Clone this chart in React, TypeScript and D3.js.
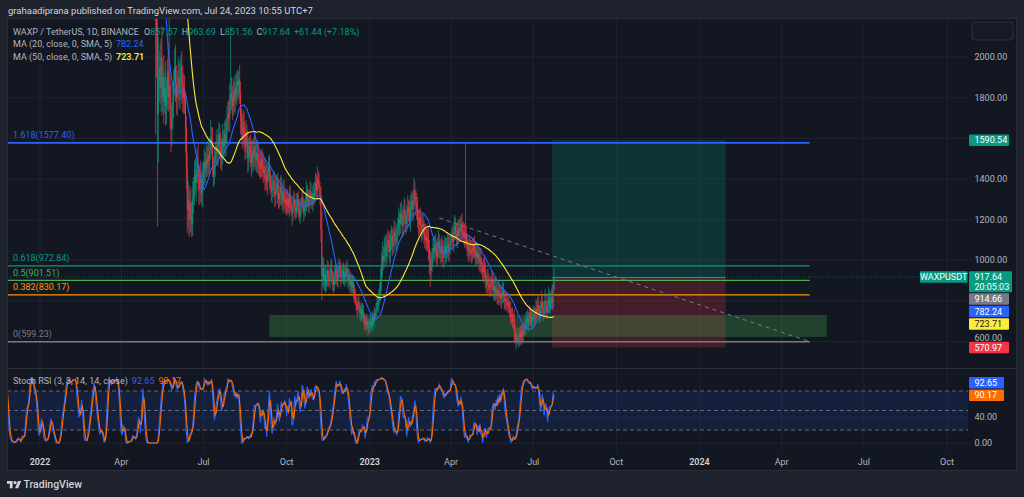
import React, { useMemo } from "react";
import * as d3 from "d3";

// ---------------- DATA ----------------
const LAST_DATE = "2023-07-24";

// daily closes before the visible candles (above the visible price range), 2021-10-20 .. 2022-04-30
const earlyCloses = [
  4200, 4300, 4250, 4400, 4350, 4500, 4450, 4600, 4550, 4800, 5100, 5000,
  5300, 5600, 5500, 5900, 6200, 6000, 6500, 6900, 6700, 7200, 7000, 6800, 7100, 7500, 7300, 6900, 6600, 6800, 7200, 7600, 8100, 8600, 9200, 10500, 9800, 9300, 8700, 9000, 8600, 8200,
  8400, 8000, 7500, 6800, 7000, 7200, 6900, 7100, 6700, 6500, 6600, 6900, 6400, 6200, 6500, 6700, 6500, 6300, 6600, 6800, 7000, 7300, 7500, 7200, 7400, 7100, 7300, 6900, 6600, 6400, 6500,
  6700, 6900, 6600, 6400, 5900, 6000, 5800, 5700, 5900, 5600, 5800, 6000, 5700, 5500, 5600, 5400, 5300, 5200, 5000, 4900, 4300, 4100, 4300, 4200, 4500, 4400, 4200, 4400, 4600, 4500, 4700,
  4900, 4800, 4700, 5000, 5300, 5200, 5500, 5700, 5600, 5400, 5100, 5200, 5000, 5300, 5600, 5500, 5100, 4900, 5000, 4800, 4600, 4700, 4900, 4700, 5000, 5200, 5000, 5500,
  5700, 5500, 5300, 5000, 5100, 4900, 4700, 4800, 5000, 4800, 4700, 4650, 4500, 4600, 4800, 5000, 5100, 5300, 5200, 5400, 5300, 5600, 5800, 5700, 5900, 6100, 6300, 6200, 6000, 5900, 5700,
  5800, 5900, 6100, 5800, 5600, 5200, 5100, 5000, 5100, 4900, 4500, 4600, 4700, 4500, 4400, 4500, 4300, 4400, 4500, 4300, 4200, 4100, 4300, 4400, 4200, 4000, 3900, 3800, 3700, 3600,
];

// daily closes 2022-05-01 .. 2023-07-24 (open = previous close)
const closes = [
  // May 2022
  3500, 3300, 3000, 2800, 2500, 2400, 2350, 2300, 2250, 2150, 1720, 1880, 1950, 1850, 2000, 1800, 1900, 1780, 1850, 1760, 1820, 1930, 1800, 1860, 1750, 1650, 1700, 1780, 1880, 1950, 1870,
  // Jun 2022
  1800, 1850, 1900, 1820, 1880, 1950, 1870, 1800, 1850, 1780, 1650, 1450, 1250, 1300, 1200, 1280, 1220, 1180, 1300, 1350, 1420, 1380, 1450, 1480, 1400, 1350, 1420, 1380, 1330, 1400,
  // Jul 2022
  1430, 1480, 1450, 1500, 1470, 1520, 1490, 1550, 1600, 1580, 1450, 1420, 1480, 1530, 1560, 1520, 1580, 1620, 1560, 1500, 1540, 1590, 1560, 1620, 1580, 1640, 1680, 1720, 1700, 1780, 1820,
  // Aug 2022
  1800, 1760, 1830, 1790, 1850, 1820, 1880, 1860, 1890, 1820, 1700, 1650, 1620, 1680, 1600, 1560, 1620, 1580, 1500, 1530, 1560, 1520, 1480, 1540, 1510, 1560, 1520, 1490, 1530, 1500, 1470,
  // Sep 2022
  1480, 1450, 1500, 1470, 1430, 1460, 1400, 1420, 1380, 1440, 1460, 1410, 1370, 1340, 1360, 1390, 1350, 1320, 1360, 1380, 1340, 1300, 1330, 1360, 1320, 1290, 1340, 1310, 1280, 1300,
  // Oct 2022
  1270, 1300, 1260, 1320, 1280, 1250, 1230, 1270, 1300, 1260, 1240, 1280, 1300, 1250, 1220, 1260, 1280, 1310, 1270, 1240, 1260, 1290, 1330, 1300, 1270, 1310, 1340, 1300, 1290, 1330, 1310,
  // Nov 2022
  1350, 1380, 1340, 1400, 1380, 1360, 1320, 1150, 920, 960, 900, 930, 880, 910, 950, 920, 900, 940, 960, 920, 900, 880, 920, 950, 930, 900, 940, 970, 950, 920,
  // Dec 2022
  930, 950, 910, 940, 920, 960, 930, 900, 920, 880, 900, 870, 890, 850, 820, 800, 780, 760, 790, 770, 740, 760, 730, 750, 720, 700, 680, 700, 690, 670, 680,
  // Jan 2023
  690, 700, 680, 720, 700, 740, 730, 760, 790, 780, 820, 840, 900, 980, 1020, 1000, 1050, 1080, 1020, 1060, 1100, 1080, 1040, 1090, 1120, 1070, 1100, 1140, 1120, 1090, 1130,
  // Feb 2023
  1160, 1200, 1180, 1230, 1210, 1170, 1220, 1250, 1200, 1180, 1220, 1260, 1240, 1200, 1260, 1290, 1250, 1300, 1340, 1310, 1280, 1250, 1200, 1180, 1210, 1170, 1150, 1180,
  // Mar 2023
  1160, 1130, 1100, 1120, 1090, 1110, 1060, 1000, 950, 980, 1020, 1060, 1040, 1080, 1050, 1020, 1060, 1090, 1050, 1030, 1070, 1040, 1010, 1050, 1070, 1030, 1060, 1080, 1040, 1070, 1090,
  // Apr 2023
  1100, 1120, 1090, 1140, 1170, 1130, 1110, 1150, 1120, 1160, 1140, 1180, 1150, 1120, 1140, 1110, 1130, 1080, 1060, 1040, 1070, 1050, 1030, 1060, 1040, 1070, 1050, 1020, 1040, 1010,
  // May 2023
  1030, 990, 1010, 980, 960, 940, 970, 950, 900, 880, 910, 890, 860, 880, 870, 900, 880, 850, 870, 840, 860, 830, 850, 820, 840, 810, 830, 850, 820, 800, 810,
  // Jun 2023
  800, 780, 790, 770, 760, 720, 730, 700, 710, 640, 600, 630, 610, 600, 620, 640, 620, 650, 630, 660, 680, 670, 700, 720, 690, 710, 740, 720, 700, 730,
  // Jul 2023
  740, 710, 730, 760, 740, 780, 750, 730, 760, 790, 770, 740, 760, 800, 770, 750, 780, 810, 770, 790, 820, 790, 856.2, 917.64,
];

// upper wick above max(open, close)
const upWicks = [
  80, 100, 120, 90, 150, 120, 100, 90, 150, 250, 50, 220, 80, 120, 90, 150, 60, 110, 70, 130, 80, 60, 140, 340, 90, 120, 70, 80, 60, 90, 110,
  90, 80, 100, 70, 110, 60, 80, 90, 70, 60, 50, 60, 80, 90, 70, 60, 80, 70, 90, 60, 70, 80, 60, 70, 90, 60, 50, 70, 60, 80,
  60, 70, 50, 80, 60, 70, 50, 60, 90, 55, 75, 60, 70, 50, 80, 60, 70, 60, 50, 70, 60, 80, 50, 60, 70, 60, 80, 60, 70, 90, 330,
  80, 60, 70, 50, 60, 70, 50, 60, 40, 70, 60, 50, 70, 60, 50, 60, 70, 50, 60, 70, 50, 60, 70, 50, 60, 50, 70, 60, 50, 60, 70,
  50, 60, 40, 50, 60, 40, 50, 60, 50, 40, 50, 60, 40, 50, 60, 40, 50, 60, 50, 40, 50, 60, 40, 50, 60, 40, 50, 60, 40, 50,
  40, 50, 30, 40, 50, 30, 40, 50, 40, 30, 40, 50, 30, 40, 50, 40, 30, 40, 50, 30, 40, 50, 60, 40, 50, 40, 50, 40, 30, 40, 50,
  40, 50, 40, 60, 40, 50, 30, 40, 90, 60, 50, 40, 50, 40, 50, 40, 30, 40, 50, 40, 30, 40, 50, 40, 30, 40, 50, 40, 30, 40,
  40, 30, 40, 30, 40, 30, 40, 30, 40, 30, 40, 30, 40, 30, 30, 40, 30, 20, 30, 40, 30, 20, 30, 40, 30, 20, 30, 40, 30, 20, 30,
  20, 30, 20, 30, 20, 30, 20, 30, 40, 30, 40, 50, 60, 60, 70, 50, 60, 40, 50, 60, 50, 40, 50, 60, 50, 40, 50, 60, 50, 40, 50,
  50, 60, 40, 50, 60, 40, 50, 60, 50, 40, 50, 60, 40, 50, 60, 50, 40, 50, 65, 50, 40, 50, 60, 50, 40, 50, 60, 50,
  50, 40, 50, 60, 40, 50, 60, 40, 50, 60, 40, 50, 60, 40, 50, 40, 50, 60, 40, 50, 40, 50, 60, 40, 50, 40, 50, 60, 40, 50, 40,
  40, 50, 40, 50, 53, 40, 50, 40, 50, 40, 50, 40, 50, 40, 50, 40, 447, 40, 50, 40, 50, 40, 50, 40, 50, 40, 50, 40, 50, 40,
  40, 30, 45, 50, 35, 30, 40, 55, 40, 30, 45, 50, 40, 35, 40, 50, 40, 30, 45, 50, 40, 30, 40, 50, 45, 30, 40, 50, 40, 30, 40,
  30, 40, 30, 45, 30, 40, 35, 40, 30, 50, 40, 30, 40, 30, 45, 30, 40, 35, 40, 30, 40, 30, 45, 30, 40, 35, 40, 30, 40, 30,
  40, 30, 40, 50, 40, 50, 40, 30, 40, 60, 40, 30, 40, 60, 40, 30, 50, 60, 40, 50, 40, 60, 30, 46.05,
];

// lower wick below min(open, close)
const downWicks = [
  100, 120, 90, 110, 130, 100, 90, 120, 630, 250, 556, 240, 100, 80, 120, 90, 70, 110, 60, 100, 90, 80, 70, 60, 110, 120, 90, 60, 80, 70, 90,
  80, 90, 60, 70, 80, 90, 100, 70, 80, 60, 120, 100, 116, 90, 85, 70, 80, 65, 60, 70, 80, 60, 90, 70, 60, 80, 70, 90, 60, 70,
  50, 60, 70, 40, 60, 50, 70, 60, 50, 60, 40, 60, 50, 70, 60, 50, 60, 70, 60, 50, 60, 70, 60, 50, 60, 70, 60, 50, 60, 70, 60,
  60, 70, 50, 60, 70, 50, 60, 70, 60, 50, 80, 60, 70, 50, 60, 70, 60, 50, 70, 60, 50, 60, 70, 50, 60, 70, 60, 50, 60, 70, 50,
  60, 50, 40, 60, 50, 40, 60, 50, 40, 60, 50, 60, 40, 50, 60, 50, 40, 60, 50, 40, 60, 50, 40, 60, 50, 40, 60, 50, 40, 50,
  50, 40, 30, 50, 40, 30, 60, 40, 30, 50, 40, 30, 50, 40, 30, 40, 50, 30, 40, 50, 30, 40, 50, 40, 30, 40, 50, 30, 40, 50, 40,
  30, 40, 30, 40, 30, 40, 50, 60, 115, 50, 40, 50, 40, 30, 40, 50, 30, 40, 30, 40, 50, 40, 30, 40, 50, 30, 40, 30, 40, 50,
  30, 40, 30, 40, 30, 40, 30, 40, 30, 40, 30, 40, 30, 40, 30, 20, 30, 40, 30, 20, 30, 40, 30, 20, 30, 40, 30, 20, 30, 40, 30,
  38, 30, 20, 30, 20, 30, 20, 30, 20, 30, 40, 30, 40, 50, 60, 50, 40, 60, 50, 40, 50, 40, 60, 50, 40, 50, 40, 60, 50, 40, 50,
  50, 40, 60, 50, 40, 60, 50, 40, 60, 50, 40, 60, 50, 40, 60, 50, 40, 60, 50, 40, 60, 50, 40, 60, 50, 40, 60, 50,
  40, 50, 40, 50, 40, 50, 60, 70, 80, 50, 40, 50, 40, 50, 40, 50, 40, 50, 40, 50, 40, 50, 40, 50, 40, 50, 40, 50, 40, 50, 40,
  40, 30, 40, 50, 40, 30, 40, 50, 40, 30, 40, 50, 40, 30, 40, 50, 40, 30, 40, 50, 40, 30, 40, 50, 40, 30, 40, 50, 40, 30,
  30, 40, 50, 40, 30, 45, 50, 40, 35, 40, 50, 40, 30, 40, 50, 45, 30, 40, 50, 40, 30, 45, 50, 40, 30, 40, 50, 40, 30, 40, 50,
  40, 30, 40, 30, 40, 30, 40, 30, 40, 40, 10, 40, 30, 10, 30, 40, 30, 40, 30, 40, 30, 40, 30, 40, 30, 40, 30, 40, 30, 40,
  30, 40, 30, 40, 30, 40, 30, 40, 30, 40, 30, 40, 30, 40, 30, 40, 30, 40, 30, 40, 30, 40, 30, 4.64,
];

const timeTicks = ["2022-01-01", "2022-04-01", "2022-07-01", "2022-10-01", "2023-01-01", "2023-04-01", "2023-07-01", "2023-10-01", "2024-01-01", "2024-04-01", "2024-07-01", "2024-10-01"];
const timeTickLabels = ["2022", "Apr", "Jul", "Oct", "2023", "Apr", "Jul", "Oct", "2024", "Apr", "Jul", "Oct"];
const priceGrid = [2000, 1800, 1600, 1400, 1200, 1000, 800, 600];
const priceAxisLabels = [2000, 1800, 1400, 1200, 1000, 600];
const stochAxisLabels = [40, 0];
const stochLevels = [80, 50, 20];

const fibRatios = ["1.618", "0.618", "0.5", "0.382", "0"];
const fibPrices = [1577.4, 972.84, 901.51, 830.17, 599.23];
const fibColors = ["#2962ff", "#089981", "#4caf50", "#ff9800", "#787b86"];
const fibEndDate = "2024-05-02";

const zoneDates = ["2022-09-12", "2024-05-21"];
const zonePrices = [731, 623];
const trendDates = ["2023-03-19", "2024-04-30"];
const trendPrices = [1208, 603];
const positionDates = ["2023-07-22", "2024-01-30"];
const positionPrices = [1590.54, 914.66, 570.97]; // target, entry, stop

const headerText = "grahaadiprana published on TradingView.com, Jul 24, 2023 10:55 UTC+7";
const symbolText = "WAXP / TetherUS, 1D, BINANCE";
const ohlcLetters = ["O", "H", "L", "C"];
const ohlcValues = ["857.57", "963.69", "851.56", "917.64"];
const changeText = "+61.44 (+7.18%)";
const maLabels = ["MA (20, close, 0, SMA, 5)", "MA (50, close, 0, SMA, 5)"];
const maValues = ["782.24", "723.71"];
const maLengths = [20, 50];
const maColors = ["#2962ff", "#ffeb3b"];
const stochLabel = "Stoch RSI (3, 3, 14, 14, close)";
const stochValues = ["92.65", "90.17"];
const stochColors = ["#2962ff", "#ff6d00"];

const markerPrices = [1590.54, 917.64, 914.66, 782.24, 723.71, 570.97];
const markerTexts = ["1590.54", "917.64", "914.66", "782.24", "723.71", "570.97"];
const markerSubs = ["", "20:05:03", "", "", "", ""];
const markerBg = ["#089981", "#089981", "#787b86", "#2962ff", "#ffeb3b", "#f23645"];
const markerFg = ["#ffffff", "#ffffff", "#ffffff", "#ffffff", "#131722", "#ffffff"];
const stochMarkerValues = [92.65, 90.17];

// ---------------- HELPERS ----------------
const DAY = 86400000;
const FONT = "Roboto, 'Open Sans', 'DejaVu Sans', sans-serif";
const UP = "#089981";
const DOWN = "#f23645";

function sma(src: number[], len: number) {
  const out: number[] = new Array(src.length).fill(NaN);
  let sum = 0;
  let cnt = 0;
  for (let i = 0; i < src.length; i++) {
    const v = src[i];
    if (!isNaN(v)) { sum += v; cnt++; }
    if (i >= len && !isNaN(src[i - len])) { sum -= src[i - len]; cnt--; }
    if (cnt === len) out[i] = sum / len;
  }
  return out;
}

function rsi(src: number[], len: number) {
  const out: number[] = new Array(src.length).fill(NaN);
  let au = 0, ad = 0;
  for (let i = 1; i < src.length; i++) {
    const ch = src[i] - src[i - 1];
    const u = Math.max(ch, 0), d = Math.max(-ch, 0);
    if (i <= len) {
      au += u / len; ad += d / len;
      if (i < len) continue;
    } else {
      au = (au * (len - 1) + u) / len;
      ad = (ad * (len - 1) + d) / len;
    }
    out[i] = ad === 0 ? 100 : 100 - 100 / (1 + au / ad);
  }
  return out;
}

function stoch(src: number[], len: number) {
  const out: number[] = new Array(src.length).fill(NaN);
  for (let i = 0; i < src.length; i++) {
    if (i < len - 1) continue;
    const w = src.slice(i - len + 1, i + 1);
    if (w.some((v) => isNaN(v))) continue;
    const hi = Math.max(...w), lo = Math.min(...w);
    out[i] = hi === lo ? 50 : (100 * (src[i] - lo)) / (hi - lo);
  }
  return out;
}

const T = (s: string) => new Date(s + "T00:00:00Z");

export default function App() {
  const W = 1024, H = 497;
  const L = { left: 7, plotRight: 968, right: 1017, top: 18, mainBottom: 368, stochTop: 369, stochBottom: 452, bottom: 471 };

  const x = d3.scaleUtc().domain([T("2022-01-01"), T("2024-10-01")]).range([40, 947]);
  const y = d3.scaleLinear().domain([600, 2000]).range([341.6, 57]);
  const ys = d3.scaleLinear().domain([0, 100]).range([443, 378]);

  const model = useMemo(() => {
    const lastT = T(LAST_DATE).getTime();
    const all = [...earlyCloses, ...closes];
    const n = all.length;
    const dates = all.map((_, i) => new Date(lastT - (n - 1 - i) * DAY));
    const offset = earlyCloses.length;
    const candles = closes.map((c, i) => {
      const o = i === 0 ? earlyCloses[earlyCloses.length - 1] : closes[i - 1];
      const hi = Math.max(o, c) + (upWicks[i] ?? 0);
      const lo = Math.min(o, c) - (downWicks[i] ?? 0);
      return { date: dates[offset + i], o, c, hi, lo };
    });
    const mas = maLengths.map((len) => sma(all, len));
    const r = rsi(all, 14);
    const st = stoch(r, 14);
    const k = sma(st, 3);
    const dd = sma(k, 3);
    return { dates, candles, mas, k, d: dd };
  }, []);

  const lineGen = (vals: number[], yy: (v: number) => number) =>
    d3.line<number>()
      .defined((v) => !isNaN(v))
      .x((_, i) => x(model.dates[i]))
      .y((v) => yy(v))
      .curve(d3.curveLinear)(vals) || "";

  // marker layout (stacking)
  const boxH = 11.5;
  const markers: any[] = [];
  let prevBottom = -Infinity;
  markerPrices.forEach((p, i) => {
    const h = markerSubs[i] ? 21 : boxH;
    let top = y(p) - boxH / 2;
    if (top < prevBottom + 1) top = prevBottom + 1;
    prevBottom = top + h;
    markers.push({ top, h, i });
  });
  const sMarkers: any[] = [];
  prevBottom = -Infinity;
  stochMarkerValues.forEach((v, i) => {
    let top = ys(v) - boxH / 2;
    if (top < prevBottom + 1) top = prevBottom + 1;
    prevBottom = top + boxH;
    sMarkers.push({ top, i });
  });

  // axis label positions: nudge a tick label upward if it would run into a marker box
  const axisLabelY = (p: number) => {
    let cy = y(p);
    markers.forEach((m) => {
      if (cy + 4 > m.top && cy - 4 < m.top + m.h) cy = Math.min(cy, m.top - 4.2);
    });
    return cy;
  };

  const axisX = 974.5;
  const gridColor = "#1f232e";

  return (
    <div style={{ position: "fixed", left: 0, top: 0, width: W, height: H }}>
      <svg width={W} height={H} style={{ display: "block", fontFamily: FONT }}>
        <defs>
          <clipPath id="mainClip"><rect x={L.left} y={L.top} width={L.plotRight - L.left} height={L.mainBottom - L.top} /></clipPath>
          <clipPath id="stochClip"><rect x={L.left} y={L.stochTop} width={L.plotRight - L.left} height={L.stochBottom - L.stochTop} /></clipPath>
        </defs>
        <rect x={0} y={0} width={W} height={H} fill="#1e222d" />
        <rect x={L.left} y={L.top} width={L.right - L.left} height={L.bottom - L.top} fill="#131722" />

        {/* grid */}
        {timeTicks.map((t, i) => (
          <line key={"vg" + i} x1={x(T(t))} x2={x(T(t))} y1={L.top} y2={L.stochBottom} stroke={gridColor} strokeWidth={1} />
        ))}
        {priceGrid.map((p) => (
          <line key={"hg" + p} x1={L.left} x2={L.plotRight} y1={y(p)} y2={y(p)} stroke={gridColor} strokeWidth={1} />
        ))}
        {[0, 40].map((v) => (
          <line key={"sg" + v} x1={L.left} x2={L.plotRight} y1={ys(v)} y2={ys(v)} stroke={gridColor} strokeWidth={1} />
        ))}

        {/* main pane */}
        <g clipPath="url(#mainClip)">
          {/* position tool */}
          <rect x={x(T(positionDates[0]))} width={x(T(positionDates[1])) - x(T(positionDates[0]))}
            y={y(positionPrices[0])} height={y(positionPrices[1]) - y(positionPrices[0])} fill="rgba(8,153,129,0.22)" />
          <rect x={x(T(positionDates[0]))} width={x(T(positionDates[1])) - x(T(positionDates[0]))}
            y={y(positionPrices[1])} height={y(positionPrices[2]) - y(positionPrices[1])} fill="rgba(242,54,69,0.22)" />
          <line x1={x(T(positionDates[0]))} x2={x(T(positionDates[1]))} y1={y(positionPrices[1])} y2={y(positionPrices[1])} stroke="#787b86" strokeWidth={1} />

          {/* support zone */}
          <rect x={x(T(zoneDates[0]))} width={x(T(zoneDates[1])) - x(T(zoneDates[0]))}
            y={y(zonePrices[0])} height={y(zonePrices[1]) - y(zonePrices[0])} fill="rgba(76,175,80,0.28)" />

          {/* fib levels */}
          {fibPrices.map((p, i) => (
            <g key={"fib" + i}>
              <line x1={L.left} x2={x(T(fibEndDate))} y1={y(p)} y2={y(p)} stroke={fibColors[i]} strokeWidth={i === 0 ? 1.6 : 1.3} />
              <text x={13} y={y(p) - 4.5} fontSize={9} fill={fibColors[i]}>{`${fibRatios[i]}(${p.toFixed(2)})`}</text>
            </g>
          ))}

          {/* trend line */}
          <line x1={x(T(trendDates[0]))} y1={y(trendPrices[0])} x2={x(T(trendDates[1]))} y2={y(trendPrices[1])}
            stroke="#787b86" strokeWidth={1} strokeDasharray="4 4" />

          {/* last price line */}
          <line x1={L.left} x2={L.plotRight} y1={y(917.64)} y2={y(917.64)} stroke={UP} strokeOpacity={0.6} strokeWidth={1} strokeDasharray="1 2" />

          {/* candles */}
          {model.candles.map((c, i) => {
            const cx = x(c.date);
            const col = c.c >= c.o ? UP : DOWN;
            const yt = y(Math.max(c.o, c.c));
            const yb = y(Math.min(c.o, c.c));
            return (
              <g key={"c" + i}>
                <line x1={cx} x2={cx} y1={y(c.hi)} y2={y(c.lo)} stroke={col} strokeWidth={0.7} />
                <rect x={cx - 0.4} width={0.8} y={yt} height={Math.max(0.8, yb - yt)} fill={col} />
              </g>
            );
          })}

          {/* moving averages */}
          {model.mas.map((m, i) => (
            <path key={"ma" + i} d={lineGen(m, y)} fill="none" stroke={maColors[i]} strokeWidth={1.1} />
          ))}
        </g>

        {/* separator */}
        <line x1={L.left} x2={L.right} y1={L.mainBottom + 0.5} y2={L.mainBottom + 0.5} stroke="#2a2e39" strokeWidth={1} />

        {/* stoch pane */}
        <g clipPath="url(#stochClip)">
          <rect x={L.left} width={L.plotRight - L.left} y={ys(80)} height={ys(20) - ys(80)} fill="rgba(41,98,255,0.12)" />
          {stochLevels.map((v) => (
            <line key={"sl" + v} x1={L.left} x2={L.plotRight} y1={ys(v)} y2={ys(v)} stroke="#787b86" strokeWidth={1} strokeDasharray="4 3" strokeOpacity={0.8} />
          ))}
          <path d={lineGen(model.k, ys)} fill="none" stroke={stochColors[0]} strokeWidth={1.1} />
          <path d={lineGen(model.d, ys)} fill="none" stroke={stochColors[1]} strokeWidth={1.1} />
        </g>

        {/* legends */}
        <text x={8} y={13.5} fontSize={9.5} fill="#d1d4dc">{headerText}</text>
        <text x={13} y={35} fontSize={9} fill="#b2b5be">
          {symbolText}
          {ohlcLetters.map((l, i) => (
            <React.Fragment key={l}>
              <tspan dx={i === 0 ? 5 : 4} fill="#b2b5be">{l}</tspan>
              <tspan fill={UP}>{ohlcValues[i]}</tspan>
            </React.Fragment>
          ))}
          <tspan dx={4} fill={UP}>{changeText}</tspan>
        </text>
        {maLabels.map((lab, i) => (
          <g key={"mal" + i}>
            <text x={13} y={47 + i * 12.5} fontSize={9} fill="#b2b5be">{lab}</text>
            <text x={116} y={47 + i * 12.5} fontSize={9} fill={maColors[i]} fontWeight={i === 1 ? 600 : 400}>{maValues[i]}</text>
          </g>
        ))}
        <text x={13} y={384} fontSize={9} fill="#b2b5be">
          {stochLabel}
          <tspan dx={4} fill={stochColors[0]}>{stochValues[0]}</tspan>
          <tspan dx={4} fill={stochColors[1]}>{stochValues[1]}</tspan>
        </text>

        {/* price axis */}
        {priceAxisLabels.map((p) => (
          <text key={"pa" + p} x={axisX} y={axisLabelY(p)} dy="0.35em" fontSize={9} fill="#b2b5be">{p.toFixed(2)}</text>
        ))}
        {stochAxisLabels.map((v) => (
          <text key={"sa" + v} x={axisX} y={ys(v)} dy="0.35em" fontSize={9} fill="#b2b5be">{v.toFixed(2)}</text>
        ))}

        {/* markers */}
        {markers.map((m) => {
          const i = m.i;
          const w = markerSubs[i] ? 43 : 40;
          return (
            <g key={"mk" + i}>
              <rect x={969} y={m.top} width={w} height={m.h} fill={markerBg[i]} rx={1} />
              <text x={axisX} y={m.top + boxH / 2} dy="0.35em" fontSize={9} fill={markerFg[i]}>{markerTexts[i]}</text>
              {markerSubs[i] && (
                <text x={axisX} y={m.top + boxH / 2 + 9.5} dy="0.35em" fontSize={9} fill={markerFg[i]}>{markerSubs[i]}</text>
              )}
              {markerSubs[i] && (
                <g>
                  <rect x={920} y={m.top} width={47.5} height={boxH} fill={markerBg[i]} rx={1} />
                  <text x={943.7} y={m.top + boxH / 2} dy="0.35em" fontSize={9} fill="#ffffff" textAnchor="middle">WAXPUSDT</text>
                </g>
              )}
            </g>
          );
        })}
        {sMarkers.map((m) => (
          <g key={"smk" + m.i}>
            <rect x={969} y={m.top} width={35} height={boxH} fill={stochColors[m.i]} rx={1} />
            <text x={axisX} y={m.top + boxH / 2} dy="0.35em" fontSize={9} fill="#ffffff">{stochValues[m.i]}</text>
          </g>
        ))}

        {/* time axis */}
        {timeTicks.map((t, i) => {
          const isYear = /^\d{4}$/.test(timeTickLabels[i]);
          return (
            <text key={"ta" + i} x={x(T(t))} y={462} dy="0.35em" textAnchor="middle" fontSize={9}
              fill={isYear ? "#d1d4dc" : "#b2b5be"} fontWeight={isYear ? 600 : 400}>{timeTickLabels[i]}</text>
          );
        })}

        {/* top-right button */}
        <rect x={972} y={22} width={41} height={18} rx={3} fill="#161a25" stroke="#2f333e" strokeWidth={1} />

        {/* frame border */}
        <rect x={L.left + 0.5} y={L.top + 0.5} width={L.right - L.left - 1} height={L.bottom - L.top - 1} fill="none" stroke="#2a2e39" strokeWidth={1} />

        {/* TradingView logo */}
        <g transform="translate(7,479.4) scale(0.4)" fill="#d1d4dc">
          <path d="M14 22H7V11H0V4h14v18z" />
          <circle cx={20} cy={8} r={4} />
          <path d="M28 22h-8l7.5-18h8L28 22z" />
        </g>
        <text x={23.5} y={488} fontSize={10.5} fill="#d1d4dc" fontWeight={500}>TradingView</text>
      </svg>
    </div>
  );
}
